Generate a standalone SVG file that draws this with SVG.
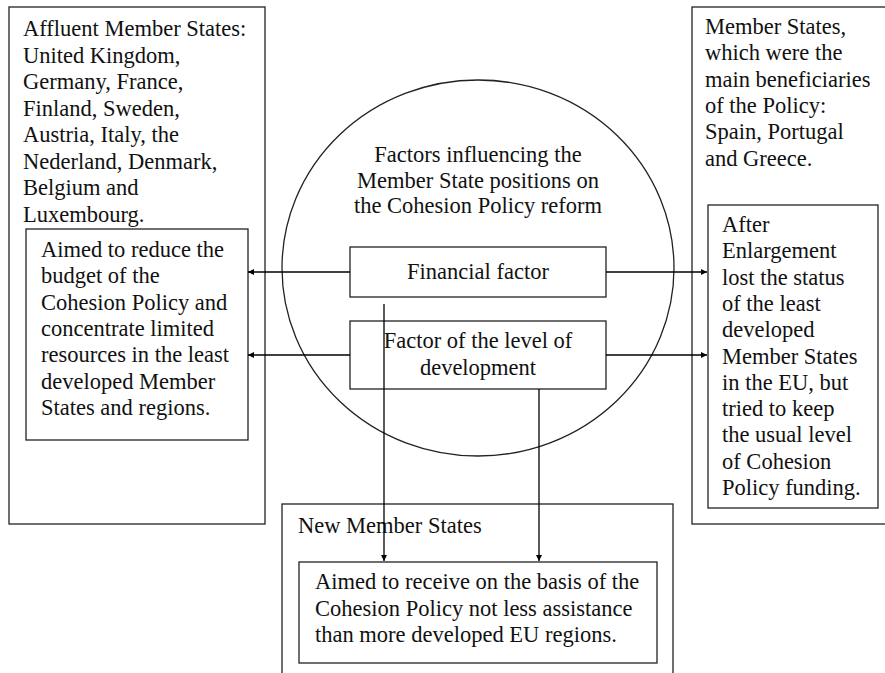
<svg xmlns="http://www.w3.org/2000/svg" width="885" height="673" viewBox="0 0 885 673" font-family="'Liberation Serif', Tinos, 'Times New Roman', 'DejaVu Serif', serif" font-size="22.5">
<style>
.box{fill:none;stroke:#222;stroke-width:1.3}
.ln{fill:none;stroke:#000;stroke-width:1.3}
text{fill:#111}
.c{text-anchor:middle}
</style>
<defs>
<marker id="ah" viewBox="0 0 10 10" refX="10" refY="5" markerWidth="7" markerHeight="6" markerUnits="userSpaceOnUse" orient="auto">
<path d="M0,0 L10,5 L0,10 z" fill="#000"/>
</marker>
</defs>
<rect width="885" height="673" fill="#fff"/>
<g id="affluent">
<rect class="box" x="9" y="7" width="256" height="517"/>
<text x="23" y="36">Affluent Member States:</text>
<text x="23" y="62.5">United Kingdom,</text>
<text x="23" y="89">Germany, France,</text>
<text x="23" y="115.5">Finland, Sweden,</text>
<text x="23" y="142">Austria, Italy, the</text>
<text x="23" y="168.5">Nederland, Denmark,</text>
<text x="23" y="195">Belgium and</text>
<text x="23" y="221.5">Luxembourg.</text>
</g>
<g id="affluent-aim">
<rect class="box" x="26" y="229" width="222" height="211"/>
<text x="41" y="257">Aimed to reduce the</text>
<text x="41" y="283.3">budget of the</text>
<text x="41" y="309.6">Cohesion Policy and</text>
<text x="41" y="335.9">concentrate limited</text>
<text x="41" y="362.2">resources in the least</text>
<text x="41" y="388.5">developed Member</text>
<text x="41" y="414.8">States and regions.</text>
</g>
<g id="beneficiaries">
<rect class="box" x="692" y="7" width="200" height="517"/>
<text x="705" y="34">Member States,</text>
<text x="705" y="60.3">which were the</text>
<text x="705" y="86.6">main beneficiaries</text>
<text x="705" y="112.9">of the Policy:</text>
<text x="705" y="139.2">Spain, Portugal</text>
<text x="705" y="165.5">and Greece.</text>
</g>
<g id="beneficiaries-aim">
<rect class="box" x="708" y="205" width="170" height="303"/>
<text x="722" y="232">After</text>
<text x="722" y="258.3">Enlargement</text>
<text x="722" y="284.6">lost the status</text>
<text x="722" y="310.9">of the least</text>
<text x="722" y="337.2">developed</text>
<text x="722" y="363.5">Member States</text>
<text x="722" y="389.8">in the EU, but</text>
<text x="722" y="416.1">tried to keep</text>
<text x="722" y="442.4">the usual level</text>
<text x="722" y="468.7">of Cohesion</text>
<text x="722" y="495">Policy funding.</text>
</g>
<g id="factors">
<ellipse class="box" cx="478" cy="268" rx="196" ry="188"/>
<text class="c" x="478" y="162">Factors influencing the</text>
<text class="c" x="478" y="187.5">Member State positions on</text>
<text class="c" x="478" y="213">the Cohesion Policy reform</text>
</g>
<g id="financial">
<rect class="box" x="350" y="247" width="256" height="50"/>
<text class="c" x="478" y="279">Financial factor</text>
</g>
<g id="development">
<rect class="box" x="350" y="321" width="256" height="68"/>
<text class="c" x="478" y="348">Factor of the level of</text>
<text class="c" x="478" y="375">development</text>
</g>
<g id="new-states">
<rect class="box" x="282" y="504" width="391" height="190"/>
<text x="298" y="533">New Member States</text>
</g>
<g id="new-states-aim">
<rect class="box" x="299" y="562" width="358" height="101"/>
<text x="315" y="589">Aimed to receive on the basis of the</text>
<text x="315" y="615.5">Cohesion Policy not less assistance</text>
<text x="315" y="642">than more developed EU regions.</text>
</g>
<g id="connectors">
<line class="ln" x1="350" y1="272" x2="248" y2="272" marker-end="url(#ah)"/>
<line class="ln" x1="350" y1="355" x2="248" y2="355" marker-end="url(#ah)"/>
<line class="ln" x1="606" y1="272" x2="707" y2="272" marker-end="url(#ah)"/>
<line class="ln" x1="606" y1="355" x2="707" y2="355" marker-end="url(#ah)"/>
<line class="ln" x1="384" y1="304" x2="384" y2="561" marker-end="url(#ah)"/>
<line class="ln" x1="539" y1="389" x2="539" y2="561" marker-end="url(#ah)"/>
</g>
</svg>
